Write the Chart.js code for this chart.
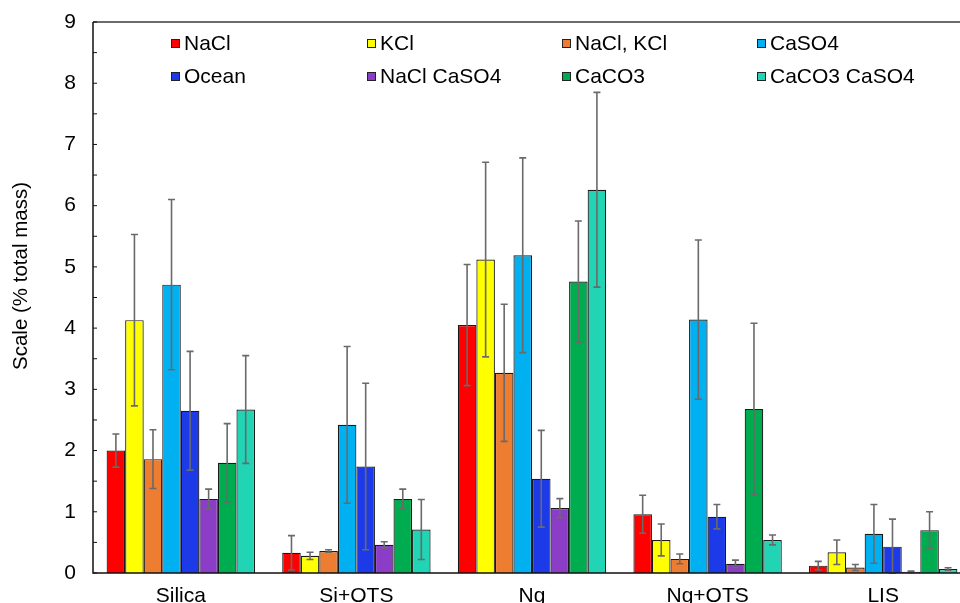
<!DOCTYPE html>
<html>
<head>
<meta charset="utf-8">
<script src="https://cdn.jsdelivr.net/npm/chart.js@4/dist/chart.umd.min.js"></script>
<style>
  html, body { margin: 0; padding: 0; background: #fff; overflow: hidden; }
  #wrap { width: 975px; height: 603px; }
</style>
</head>
<body>
<div id="wrap"><canvas id="c" width="975" height="603"></canvas></div>
<script>
const categories = ['Silica', 'Si+OTS', 'Ng', 'Ng+OTS', 'LIS'];
const seriesNames = ['NaCl', 'KCl', 'NaCl, KCl', 'CaSO4', 'Ocean', 'NaCl CaSO4', 'CaCO3', 'CaCO3 CaSO4'];
const yTitle = 'Scale (% total mass)';

const nacl       = [2.00, 0.33, 4.05, 0.96, 0.12];
const naclErr    = [0.27, 0.28, 0.99, 0.31, 0.07];
const kcl        = [4.13, 0.28, 5.12, 0.54, 0.34];
const kclErr     = [1.40, 0.06, 1.59, 0.26, 0.20];
const naclKcl    = [1.86, 0.36, 3.27, 0.23, 0.09];
const naclKclErr = [0.48, 0.02, 1.12, 0.08, 0.05];
const caso4      = [4.71, 2.42, 5.19, 4.14, 0.64];
const caso4Err   = [1.39, 1.28, 1.59, 1.30, 0.48];
const ocean      = [2.65, 1.74, 1.54, 0.92, 0.43];
const oceanErr   = [0.97, 1.36, 0.79, 0.20, 0.45];
const naclCaso4    = [1.21, 0.46, 1.06, 0.15, 0.02];
const naclCaso4Err = [0.16, 0.05, 0.155, 0.06, 0.01];
const caco3      = [1.80, 1.21, 4.76, 2.68, 0.70];
const caco3Err   = [0.64, 0.16, 0.99, 1.40, 0.30];
const caco3Caso4    = [2.67, 0.71, 6.26, 0.54, 0.065];
const caco3Caso4Err = [0.88, 0.49, 1.59, 0.08, 0.02];

const values = [nacl, kcl, naclKcl, caso4, ocean, naclCaso4, caco3, caco3Caso4];
const errors = [naclErr, kclErr, naclKclErr, caso4Err, oceanErr, naclCaso4Err, caco3Err, caco3Caso4Err];
const colors = ['#FF0000', '#FFFF00', '#ED7D31', '#00B0F0', '#1C3AE8', '#8B3DC8', '#00AC50', '#20D4B4'];

const FONT = '"Liberation Sans", Arial, Helvetica, sans-serif';

const datasets = seriesNames.map((name, i) => ({
  label: name,
  data: values[i],
  errors: errors[i],
  backgroundColor: colors[i],
  borderColor: '#1a1a1a',
  borderWidth: 1.2,
  borderSkipped: 'start',
  categoryPercentage: 0.845,
  barPercentage: 1.0
}));

const extras = {
  id: 'extras',
  afterDatasetsDraw(chart) {
    const ctx = chart.ctx;
    const ys = chart.scales.y;
    const area = chart.chartArea;
    ctx.save();
    // error bars
    ctx.strokeStyle = '#6a6a6a';
    ctx.lineWidth = 1.6;
    chart.data.datasets.forEach((ds, di) => {
      const meta = chart.getDatasetMeta(di);
      meta.data.forEach((bar, j) => {
        const v = ds.data[j], e = ds.errors[j];
        const x = bar.x;
        const yTop = ys.getPixelForValue(v + e);
        const yBot = ys.getPixelForValue(Math.max(0, v - e));
        ctx.beginPath();
        ctx.moveTo(x, yTop); ctx.lineTo(x, yBot);
        ctx.moveTo(x - 3.5, yTop); ctx.lineTo(x + 3.5, yTop);
        ctx.moveTo(x - 3.5, yBot); ctx.lineTo(x + 3.5, yBot);
        ctx.stroke();
      });
    });
    // frame: top border, left axis, bottom axis
    ctx.strokeStyle = '#3a3a3a';
    ctx.lineWidth = 1.5;
    ctx.beginPath();
    ctx.moveTo(area.left, area.top); ctx.lineTo(area.right + 10, area.top);
    ctx.stroke();
    ctx.strokeStyle = '#111';
    ctx.beginPath();
    ctx.moveTo(area.left, area.top); ctx.lineTo(area.left, area.bottom);
    ctx.lineTo(area.right + 10, area.bottom);
    ctx.stroke();
    // inward y ticks
    ctx.lineWidth = 1;
    ys.ticks.forEach(t => {
      const y = ys.getPixelForValue(t.value);
      ctx.beginPath();
      ctx.moveTo(area.left, y); ctx.lineTo(area.left + 4, y);
      ctx.stroke();
    });
    // legend inside plot
    const colX = [171, 367, 562, 757];
    const rowY = [43, 76];
    ctx.font = '21px ' + FONT;
    ctx.textBaseline = 'middle';
    ctx.textAlign = 'left';
    chart.data.datasets.forEach((ds, i) => {
      const cx = colX[i % 4], cy = rowY[Math.floor(i / 4)];
      ctx.fillStyle = ds.backgroundColor;
      ctx.fillRect(cx, cy - 4, 8, 8);
      ctx.strokeStyle = '#222';
      ctx.lineWidth = 1;
      ctx.strokeRect(cx + 0.5, cy - 3.5, 8, 8);
      ctx.fillStyle = '#000';
      ctx.fillText(ds.label, cx + 13, cy + 1);
    });
    // y-axis title
    ctx.translate(21, 276);
    ctx.rotate(-Math.PI / 2);
    ctx.textAlign = 'center';
    ctx.textBaseline = 'middle';
    ctx.font = '20.5px ' + FONT;
    ctx.fillText(yTitle, 0, 0);
    ctx.restore();
  }
};

new Chart(document.getElementById('c'), {
  type: 'bar',
  data: { labels: categories, datasets },
  options: {
    responsive: false,
    animation: false,
    devicePixelRatio: 1,
    layout: { padding: { top: 22, right: 4, bottom: 0, left: 0 } },
    plugins: { legend: { display: false }, tooltip: { enabled: false } },
    scales: {
      x: {
        grid: { display: false, drawTicks: false },
        border: { display: false },
        ticks: { color: '#000', font: { family: FONT, size: 21 }, padding: 11, maxRotation: 0 },
        afterFit(s) { s.height = 30; s.paddingLeft = 0; s.paddingRight = 0; }
      },
      y: {
        min: 0, max: 9,
        grid: { display: false, drawTicks: false },
        border: { display: false },
        ticks: {
          stepSize: 0.5,
          color: '#000',
          font: { family: FONT, size: 21 },
          padding: 17,
          callback: v => (Math.abs(v - Math.round(v)) < 1e-9 ? String(Math.round(v)) : '')
        },
        afterFit(s) { s.width = 93; s.paddingTop = 0; s.paddingBottom = 0; }
      }
    }
  },
  plugins: [extras]
});
</script>
</body>
</html>
